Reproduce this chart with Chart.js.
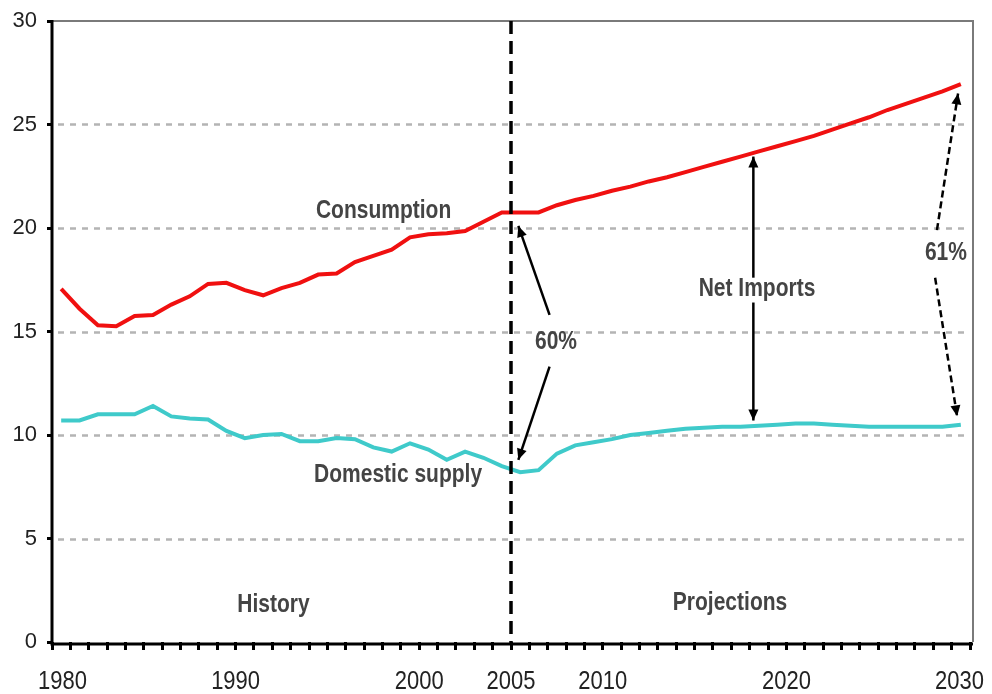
<!DOCTYPE html>
<html>
<head>
<meta charset="utf-8">
<script src="https://cdn.jsdelivr.net/npm/chart.js@4/dist/chart.umd.min.js"></script>
<style>
    html, body { margin: 0; padding: 0; background: #fff; }
    #wrap { width: 992px; height: 694px; position: relative; }
</style>
</head>
<body>
<div id="wrap"><canvas id="chartOil"></canvas></div>
<script>
// years 1980..2029, each value drawn in the middle of its year slot
const YEARS = [];
for (let y = 1980; y <= 2029; y++) YEARS.push(y);

const CONSUMPTION = [
    17.06, 16.1, 15.3, 15.25, 15.75, 15.8, 16.3, 16.7, 17.3, 17.35,
    17.0, 16.75, 17.1, 17.35, 17.75, 17.8, 18.35, 18.65, 18.95, 19.55,
    19.7, 19.75, 19.85, 20.3, 20.75, 20.75, 20.75, 21.1, 21.35, 21.55,
    21.8, 22.0, 22.25, 22.45, 22.7, 22.95, 23.2, 23.45, 23.7, 23.95,
    24.2, 24.45, 24.75, 25.05, 25.35, 25.7, 26.0, 26.3, 26.6, 26.95
];

const DOMESTIC_SUPPLY = [
    10.7, 10.7, 11.0, 11.0, 11.0, 11.4, 10.9, 10.8, 10.75, 10.2,
    9.85, 10.0, 10.05, 9.7, 9.7, 9.85, 9.8, 9.4, 9.2, 9.6,
    9.3, 8.8, 9.2, 8.9, 8.5, 8.2, 8.3, 9.1, 9.5, 9.65,
    9.8, 10.0, 10.1, 10.2, 10.3, 10.35, 10.4, 10.4, 10.45, 10.5,
    10.55, 10.55, 10.5, 10.45, 10.4, 10.4, 10.4, 10.4, 10.4, 10.5
];

const X_LABELS = [1980, 1990, 2000, 2005, 2010, 2020, 2030];
const Y_TICKS = [0, 5, 10, 15, 20, 25, 30];
const SPLIT_YEAR = 2005;

// text labels: [text, year, value]
const TEXTS = [
    ['Consumption', 1998.06, 20.82],
    ['Domestic supply', 1998.85, 8.07],
    ['History', 1992.06, 1.79],
    ['Projections', 2016.93, 1.88],
    ['Net Imports', 2018.4, 17.05],
    ['60%', 2007.45, 14.49],
    ['61%', 2028.69, 18.79]
];

// arrows: [fromYear, fromValue, toYear, toValue, dashed]
const ARROWS = [
    [2018.2, 17.6, 2018.2, 23.45, false],
    [2018.2, 16.4, 2018.2, 10.7, false],
    [2007.1, 15.8, 2005.4, 20.1, false],
    [2007.1, 13.3, 2005.4, 8.8, false],
    [2028.2, 19.9, 2029.35, 26.5, true],
    [2028.1, 17.6, 2029.3, 10.9, true]
];

const FONT = '"Liberation Sans", Arial, sans-serif';

function toPoints(values) {
    return values.map((v, i) => ({ x: YEARS[i] + 0.5, y: v }));
}

function arrowHead(ctx, x1, y1, x2, y2) {
    const a = Math.atan2(y2 - y1, x2 - x1);
    const len = 11, half = 5;
    ctx.beginPath();
    ctx.moveTo(x2, y2);
    ctx.lineTo(x2 - len * Math.cos(a) + half * Math.sin(a), y2 - len * Math.sin(a) - half * Math.cos(a));
    ctx.lineTo(x2 - len * Math.cos(a) - half * Math.sin(a), y2 - len * Math.sin(a) + half * Math.cos(a));
    ctx.closePath();
    ctx.fill();
}

function stretchedText(ctx, text, px, py) {
    ctx.save();
    ctx.translate(px, py);
    ctx.scale(1, 1.2);
    ctx.fillText(text, 0, 0);
    ctx.restore();
}

const decorations = {
    id: 'decorations',
    beforeDatasetsDraw(chart) {
        const { ctx, chartArea: a, scales: { x, y } } = chart;
        ctx.save();
        // dotted gridlines
        ctx.strokeStyle = '#b4b4b4';
        ctx.lineWidth = 2.5;
        ctx.setLineDash([6, 6]);
        Y_TICKS.forEach(t => {
            if (t === 0 || t === 30) return;
            const py = Math.round(y.getPixelForValue(t)) + 0.5;
            ctx.beginPath();
            ctx.moveTo(a.left + 6, py);
            ctx.lineTo(a.right, py);
            ctx.stroke();
        });
        ctx.setLineDash([]);
        // gray frame top and right
        ctx.strokeStyle = '#7a7a7a';
        ctx.lineWidth = 2;
        ctx.beginPath();
        ctx.moveTo(a.left, a.top);
        ctx.lineTo(a.right + 3, a.top);
        ctx.lineTo(a.right + 3, a.bottom);
        ctx.stroke();
        ctx.restore();
    },
    afterDatasetsDraw(chart) {
        const { ctx, chartArea: a, scales: { x, y } } = chart;
        ctx.save();
        // black axes
        ctx.strokeStyle = '#000';
        ctx.lineWidth = 3;
        ctx.beginPath();
        ctx.moveTo(a.left, a.top - 1);
        ctx.lineTo(a.left, a.bottom + 2);
        ctx.lineTo(a.right + 3, a.bottom + 2);
        ctx.stroke();

        // history / projections split
        const sx = x.getPixelForValue(SPLIT_YEAR);
        ctx.lineWidth = 3.5;
        ctx.setLineDash([13, 7]);
        ctx.beginPath();
        ctx.moveTo(sx, a.top);
        ctx.lineTo(sx, a.bottom + 2);
        ctx.stroke();

        // arrows
        ctx.fillStyle = '#000';
        ctx.lineWidth = 2.5;
        ARROWS.forEach(([fx, fy, tx, ty, dashed]) => {
            const x1 = x.getPixelForValue(fx), y1 = y.getPixelForValue(fy);
            const x2 = x.getPixelForValue(tx), y2 = y.getPixelForValue(ty);
            ctx.setLineDash(dashed ? [7, 4] : []);
            ctx.beginPath();
            ctx.moveTo(x1, y1);
            ctx.lineTo(x2, y2);
            ctx.stroke();
            ctx.setLineDash([]);
            arrowHead(ctx, x1, y1, x2, y2);
        });

        ctx.textAlign = 'center';
        ctx.textBaseline = 'middle';

        // year labels under the axis, kept inside the canvas at both ends
        ctx.fillStyle = '#222';
        ctx.font = '22px ' + FONT;
        X_LABELS.forEach(v => {
            const w = ctx.measureText(String(v)).width;
            let px = x.getPixelForValue(v);
            px = Math.max(38 + w / 2, Math.min(chart.width - 8 - w / 2, px));
            stretchedText(ctx, String(v), px, a.bottom + 40);
        });

        // annotations
        ctx.fillStyle = '#444';
        ctx.font = 'bold 21px ' + FONT;
        TEXTS.forEach(([t, tx, ty]) => {
            stretchedText(ctx, t, x.getPixelForValue(tx), y.getPixelForValue(ty));
        });
        ctx.restore();
    }
};

new Chart(document.getElementById('chartOil'), {
    type: 'line',
    data: {
        datasets: [
            {
                label: 'Consumption',
                data: toPoints(CONSUMPTION),
                borderColor: '#f01010',
                borderWidth: 4,
                pointRadius: 0,
                tension: 0
            },
            {
                label: 'Domestic supply',
                data: toPoints(DOMESTIC_SUPPLY),
                borderColor: '#3fcaca',
                borderWidth: 4,
                pointRadius: 0,
                tension: 0
            }
        ]
    },
    options: {
        responsive: true,
        maintainAspectRatio: false,
        animation: false,
        layout: { padding: { left: 0, right: 22, top: 21, bottom: 0 } },
        plugins: {
            legend: { display: false },
            tooltip: { enabled: false }
        },
        scales: {
            x: {
                type: 'linear',
                min: 1980,
                max: 2030,
                afterBuildTicks: scale => {
                    scale.ticks = YEARS.concat([2030]).map(v => ({ value: v }));
                },
                afterFit: scale => {
                    scale.height = 52;
                    scale.paddingLeft = 0;
                    scale.paddingRight = 0;
                },
                ticks: {
                    autoSkip: false,
                    maxRotation: 0,
                    callback: () => ''
                },
                grid: {
                    drawOnChartArea: false,
                    tickLength: 8,
                    tickWidth: 3,
                    tickColor: '#000'
                },
                border: { display: false }
            },
            y: {
                min: 0,
                max: 30,
                afterBuildTicks: scale => {
                    scale.ticks = Y_TICKS.map(v => ({ value: v }));
                },
                afterFit: scale => {
                    scale.width = 52;
                    scale.paddingTop = 0;
                    scale.paddingBottom = 0;
                },
                ticks: {
                    padding: 10,
                    color: '#222',
                    font: { family: FONT, size: 22 }
                },
                grid: {
                    drawOnChartArea: false,
                    tickLength: 5,
                    tickWidth: 3,
                    tickColor: '#000'
                },
                border: { display: false }
            }
        }
    },
    plugins: [decorations]
});
</script>
</body>
</html>
